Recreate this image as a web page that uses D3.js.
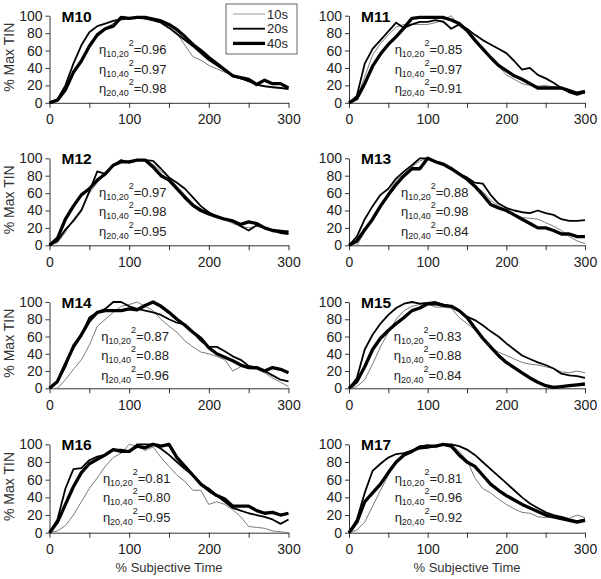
<!DOCTYPE html>
<html><head><meta charset="utf-8">
<script src="https://cdn.jsdelivr.net/npm/d3@7"></script>
<style>body{margin:0;background:#fff} svg{display:block}</style>
</head><body><svg id="c" width="601" height="579"></svg>
<script>
// ---------- DATA ----------
const subjectiveTime = [0,10,20,30,40,50,60,70,80,90,100,110,120,130,140,150,160,170,180,190,200,210,220,230,240,250,260,270,280,290,300];
const xTickValues = [0,50,100,150,200,250,300];
const xTickLabels = [0,100,200,300];
const yTickValues = [0,20,40,60,80,100];
const seriesNames = ["10s","20s","40s"];
const panelNames = ["M10","M11","M12","M13","M14","M15","M16","M17"];
const eta1020 = [0.96,0.85,0.97,0.88,0.87,0.83,0.81,0.81];
const eta1040 = [0.97,0.97,0.98,0.98,0.88,0.88,0.80,0.96];
const eta2040 = [0.98,0.91,0.95,0.84,0.96,0.84,0.95,0.92];
const etaTextX = [62,58,62,66,65,57,67,58]; // data-space x where annotation starts

const m10_10s = [0,3,15,35,50,67,80,86,91,95,97,97,96,94,92,88,80,66,53,49,43,39,35,32,28,24,21,19,17,17,15];
const m10_20s = [0,4,20,45,66,81,88,91,94,96,97,98,97,95,92,86,79,72,65,57,49,43,37,31,28,25,21,19,18,17,16];
const m10_40s = [0,3,15,35,48,65,78,85,88,98,97,98,98,96,94,90,84,76,67,60,52,45,38,31,29,27,21,26,22,22,17];

const m11_10s = [0,5,30,55,68,78,87,90,90,90,90,92,95,100,88,82,72,62,52,42,32,27,22,20,19,20,18,17,14,12,11];
const m11_20s = [0,8,45,62,72,82,92,86,90,93,93,95,93,85,90,85,78,72,67,62,57,48,38,40,32,28,23,17,12,9,12];
const m11_40s = [0,5,22,42,56,67,76,86,97,98,98,98,98,95,91,83,72,62,52,43,37,31,27,22,17,17,17,17,14,11,13];

const m12_10s = [0,3,15,30,42,60,72,82,93,96,97,98,98,93,85,78,68,58,48,42,38,33,30,25,22,20,22,20,18,16,16];
const m12_20s = [0,5,18,28,40,62,85,82,92,98,95,98,98,97,88,78,72,65,55,45,38,33,30,28,22,17,23,20,17,14,13];
const m12_40s = [0,8,30,45,58,65,75,82,92,96,96,98,98,90,80,75,65,55,46,40,36,33,30,28,24,27,25,20,17,16,15];

const m13_10s = [0,0,15,33,47,60,75,82,90,97,100,96,95,90,82,75,68,62,52,45,40,36,32,31,30,26,22,17,10,5,2];
const m13_20s = [0,10,30,45,58,65,77,85,92,100,100,96,93,88,82,78,72,71,58,48,43,40,38,37,40,37,35,30,28,28,29];
const m13_40s = [0,5,18,30,45,58,70,80,88,88,100,96,93,88,82,76,68,58,47,43,40,35,30,25,20,20,17,13,13,10,10];

const m14_10s = [0,0,10,22,33,50,72,80,88,95,97,100,95,90,80,72,65,55,48,42,40,37,33,20,25,23,22,18,12,7,2];
const m14_20s = [0,8,25,50,62,82,88,92,100,100,95,92,90,88,85,80,76,74,65,55,48,48,43,37,33,26,24,20,15,10,8];
const m14_40s = [0,8,28,48,62,78,88,90,90,90,92,91,96,100,95,88,80,73,65,58,47,40,36,32,27,24,24,20,24,22,18];

const m15_10s = [0,2,10,28,48,65,80,90,95,97,98,94,94,93,82,75,68,58,48,42,38,34,30,28,27,25,23,19,18,20,18];
const m15_20s = [0,12,45,62,75,85,93,98,100,98,99,100,97,95,90,83,79,73,66,60,52,45,38,34,30,27,23,17,15,14,12];
const m15_40s = [0,8,25,45,58,67,75,82,90,93,98,98,96,95,90,82,70,58,48,38,30,24,18,12,7,3,1,2,3,4,5];

const m16_10s = [0,2,8,20,35,50,62,75,85,90,100,98,93,97,85,75,65,58,48,48,32,35,32,26,18,7,6,5,2,1,0];
const m16_20s = [0,15,50,72,73,82,86,88,94,94,92,100,100,100,95,88,80,72,65,55,50,42,35,28,25,22,20,18,15,10,15];
const m16_40s = [0,12,32,52,68,78,83,88,94,92,92,98,96,100,98,100,85,75,65,55,48,42,38,30,30,30,25,22,23,20,22];

const m17_10s = [0,3,12,30,48,65,80,88,92,96,100,96,100,100,92,82,62,50,45,38,32,27,23,22,18,17,18,18,16,20,17];
const m17_20s = [0,15,45,70,78,85,89,90,93,95,96,98,100,100,98,94,88,80,72,64,56,48,40,33,28,23,20,18,15,13,15];
const m17_40s = [0,12,35,45,55,68,80,88,92,97,98,98,100,98,88,80,75,65,55,48,42,37,32,28,24,20,18,16,14,12,14];

const panelSeries = [
  [m10_10s,m10_20s,m10_40s],[m11_10s,m11_20s,m11_40s],
  [m12_10s,m12_20s,m12_40s],[m13_10s,m13_20s,m13_40s],
  [m14_10s,m14_20s,m14_40s],[m15_10s,m15_20s,m15_40s],
  [m16_10s,m16_20s,m16_40s],[m17_10s,m17_20s,m17_40s]
];

// ---------- LAYOUT / STYLE ----------
const FONT = '"Liberation Sans", Arial, Helvetica, sans-serif';
const colX0 = [49.5, 349], colX1 = [288.5, 585];
const rowTop = [15.7, 158.3, 302, 444.3], rowBot = [102.8, 245.3, 388.3, 532.7];
const seriesStroke = ["#7a7a7a","#000","#000"];
const seriesWidth = [1, 1.8, 3.3];
const fmt = d3.format(".2f");

const svg = d3.select("#c").style("font-family", FONT);

panelNames.forEach((name, i) => {
  const col = i % 2, row = Math.floor(i / 2);
  const x = d3.scaleLinear().domain([0, 300]).range([colX0[col], colX1[col]]);
  const y = d3.scaleLinear().domain([0, 100]).range([rowBot[row], rowTop[row]]);
  const g = svg.append("g");

  const xa = g.append("g").attr("transform", `translate(0,${y(0)})`)
    .call(d3.axisBottom(x).tickValues(xTickValues).tickSize(5).tickSizeOuter(0).tickPadding(6.5)
      .tickFormat(d => xTickLabels.includes(d) ? d : ""));
  const ya = g.append("g").attr("transform", `translate(${x(0)},0)`)
    .call(d3.axisLeft(y).tickValues(yTickValues).tickSize(4).tickSizeOuter(0).tickPadding(3));
  [xa, ya].forEach(a => {
    a.select(".domain").attr("stroke", "#333").attr("stroke-width", 1);
    a.selectAll(".tick line").attr("stroke", "#333");
    a.selectAll(".tick text").attr("fill", "#222").style("font-size", "14px").style("font-family", FONT);
  });

  const line = d3.line().x((d, k) => x(subjectiveTime[k])).y(d => y(d));
  panelSeries[i].forEach((vals, s) => {
    g.append("path").datum(vals).attr("d", line).attr("fill", "none")
      .attr("stroke", seriesStroke[s]).attr("stroke-width", seriesWidth[s])
      .attr("stroke-linejoin", "round");
  });

  g.append("text").attr("x", x(0) + 12).attr("y", y(100) + 6)
    .style("font-size", "15.5px").style("font-weight", "bold").attr("fill", "#000").text(name);

  const etas = [["10,20", eta1020[i]], ["10,40", eta1040[i]], ["20,40", eta2040[i]]];
  etas.forEach(([sub, v], k) => {
    const t = g.append("text").attr("x", x(etaTextX[i])).attr("y", y(100) + 38.5 + k * 19.5)
      .attr("fill", "#222").style("font-size", "13px");
    t.append("tspan").text("η");
    t.append("tspan").attr("dy", 3).style("font-size", "9px").text(sub);
    t.append("tspan").attr("dy", -11).style("font-size", "9px").text("2");
    t.append("tspan").attr("dy", 8).text("=" + fmt(v));
  });

  if (col === 0) {
    svg.append("text").attr("transform", `translate(14,${(y(0) + y(100)) / 2 - 2}) rotate(-90)`)
      .attr("text-anchor", "middle").attr("fill", "#333").style("font-size", "14px").text("% Max TIN");
  }
  if (row === 3) {
    svg.append("text").attr("x", (x(0) + x(300)) / 2).attr("y", 571.5)
      .attr("text-anchor", "middle").attr("fill", "#333").style("font-size", "13px").text("% Subjective Time");
  }
  if (i === 0) {
    const lg = svg.append("g");
    lg.append("rect").attr("x", 226).attr("y", 4).attr("width", 71).attr("height", 50)
      .attr("fill", "#fff").attr("stroke", "#666").attr("stroke-width", 1);
    seriesNames.forEach((sn, s) => {
      const ly = 14 + s * 14.7;
      lg.append("line").attr("x1", 233).attr("x2", 265).attr("y1", ly).attr("y2", ly)
        .attr("stroke", s === 0 ? "#999" : "#000").attr("stroke-width", seriesWidth[s]);
      lg.append("text").attr("x", 267).attr("y", ly + 4.6).attr("fill", "#222")
        .style("font-size", "13px").text(sn);
    });
  }
});
</script></body></html>
